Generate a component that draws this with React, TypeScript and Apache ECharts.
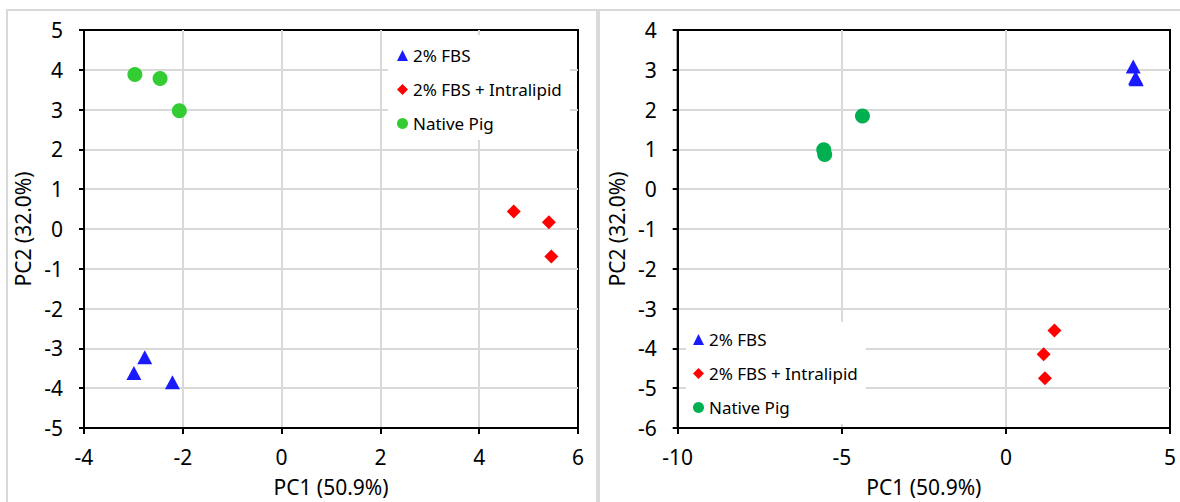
import React, { useEffect, useRef } from "react";
import * as echarts from "echarts";

const FONT = "'Noto Sans', sans-serif";

const seriesNames = ["2% FBS", "2% FBS + Intralipid", "Native Pig"];
const xAxisName = "PC1 (50.9%)";
const yAxisName = "PC2 (32.0%)";

// Left panel
const fbsLeft = [[-2.77, -3.22], [-2.99, -3.62], [-2.21, -3.85]];
const intraLeft = [[4.7, 0.44], [5.41, 0.17], [5.46, -0.69]];
const nativeLeft = [[-2.97, 3.88], [-2.46, 3.78], [-2.07, 2.97]];
const leftX = { min: -4, max: 6, interval: 2 };
const leftY = { min: -5, max: 5, interval: 1 };

// Right panel
const fbsRight = [[3.88, 3.08], [3.97, 2.76], [3.95, 2.8]];
const intraRight = [[1.48, -3.55], [1.15, -4.15], [1.19, -4.75]];
const nativeRight = [[-5.55, 0.99], [-5.52, 0.87], [-4.37, 1.84]];
const rightX = { min: -10, max: 5, interval: 5 };
const rightY = { min: -6, max: 4, interval: 1 };

const BLUE = "#1a1aff";
const RED = "#ff0000";
const GREEN_L = "#33cc33";
const GREEN_R = "#00b050";

function axisCommon(isX: boolean) {
  return {
    type: "value",
    axisLine: { show: true, onZero: false, lineStyle: { color: "#000", width: 2 } },
    axisTick: { show: true, length: isX ? 6 : 5, lineStyle: { color: "#000", width: 2 } },
    axisLabel: { color: "#000", fontSize: 21, fontFamily: FONT, margin: isX ? 18 : 21 },
    splitLine: {
      show: true,
      showMinLine: false,
      showMaxLine: false,
      lineStyle: { color: "#d9d9d9", width: 2 },
    },
    name: isX ? xAxisName : yAxisName,
    nameLocation: "middle",
    nameGap: isX ? 48 : 47,
    nameTextStyle: { color: "#000", fontSize: 21, fontFamily: FONT },
  };
}

function makeOption(cfg: any) {
  return {
    animation: false,
    grid: {
      left: cfg.grid[0],
      right: cfg.grid[1],
      top: cfg.grid[2],
      bottom: cfg.grid[3],
      show: true,
      borderColor: "#000",
      borderWidth: 2,
      backgroundColor: "transparent",
    },
    xAxis: { ...axisCommon(true), ...cfg.x },
    yAxis: { ...axisCommon(false), ...cfg.y },
    legend: {
      orient: "vertical",
      left: cfg.legend[0],
      top: cfg.legend[1],
      padding: cfg.legendPad,
      backgroundColor: "#fff",
      itemWidth: 11,
      itemHeight: 11,
      itemGap: 17,
      textStyle: { fontSize: 17, fontFamily: FONT, color: "#000", lineHeight: 17 },
      data: seriesNames,
    },
    series: [
      {
        name: seriesNames[0],
        type: "scatter",
        symbol: "triangle",
        symbolSize: [15, 14],
        itemStyle: { color: BLUE, opacity: 1 },
        data: cfg.data[0],
      },
      {
        name: seriesNames[1],
        type: "scatter",
        symbol: "diamond",
        symbolSize: [14, 14],
        itemStyle: { color: RED, opacity: 1 },
        data: cfg.data[1],
      },
      {
        name: seriesNames[2],
        type: "scatter",
        symbol: "circle",
        symbolSize: 15,
        itemStyle: { color: cfg.green, opacity: 1 },
        data: cfg.data[2],
      },
    ],
  };
}

function Chart({ option, style }: { option: any; style: React.CSSProperties }) {
  const ref = useRef<HTMLDivElement>(null);
  useEffect(() => {
    if (!ref.current) return;
    const chart = echarts.init(ref.current, undefined, { renderer: "svg" });
    chart.setOption(option);
    return () => chart.dispose();
  }, [option]);
  return <div ref={ref} style={style} />;
}

const leftOption = makeOption({
  grid: [84, 20, 30, 68],
  x: leftX,
  y: leftY,
  legend: [388, 35],
  legendPad: [12, 8, 8, 9],
  data: [fbsLeft, intraLeft, nativeLeft],
  green: GREEN_L,
});

const rightOption = makeOption({
  grid: [77, 10, 30, 70],
  x: rightX,
  y: rightY,
  legend: [88, 322],
  legendPad: [9, 8, 8, 7],
  data: [fbsRight, intraRight, nativeRight],
  green: GREEN_R,
});

export default function App() {
  return (
    <div
      style={{
        position: "fixed",
        left: 0,
        top: 0,
        width: 1180,
        height: 502,
        background: "#fff",
        overflow: "hidden",
      }}
    >
      <div
        style={{
          position: "absolute",
          left: 6,
          top: 9,
          width: 592,
          height: 520,
          boxSizing: "border-box",
          borderLeft: "2px solid #d9d9d9",
          borderTop: "2px solid #d9d9d9",
          borderRight: "2px solid #d9d9d9",
        }}
      />
      <div
        style={{
          position: "absolute",
          left: 598,
          top: 9,
          width: 620,
          height: 520,
          boxSizing: "border-box",
          borderLeft: "2px solid #d9d9d9",
          borderTop: "2px solid #d9d9d9",
        }}
      />
      <Chart option={leftOption} style={{ position: "absolute", left: 0, top: 0, width: 598, height: 502 }} />
      <Chart option={rightOption} style={{ position: "absolute", left: 598, top: 0, width: 582, height: 502 }} />
    </div>
  );
}
